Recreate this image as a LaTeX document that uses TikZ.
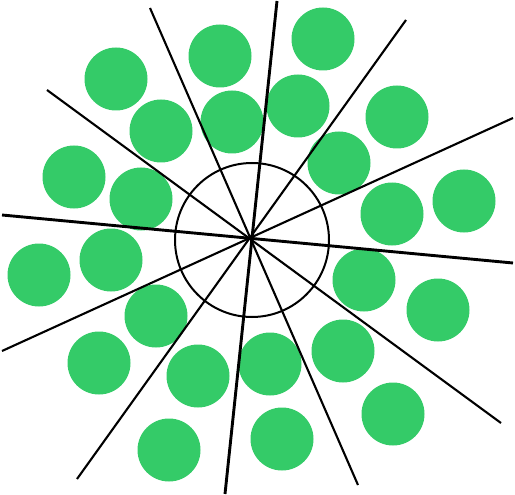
\documentclass[tikz,border=0pt]{standalone}
\definecolor{dotgreen}{RGB}{52,203,104}
\begin{document}
\begin{tikzpicture}[x=1pt,y=-1pt,
  dot/.style={fill=dotgreen,draw=none},
  ray/.style={draw=black,line width=2.1pt},
  thickray/.style={draw=black,line width=2.9pt},
  ring/.style={draw=black,line width=2pt}]
\useasboundingbox (0,0) rectangle (515,495);
% green discs
\foreach \x/\y in {220/56,323/39,116/79,161/131,232/122,298/106,397/117,339/163,
  74/177,141/199,392/214,464/201,39/275,111/260,364/280,438/310,156/316,99/363,
  198/376,270/364,343/351,393/414,169/450,282/439}
  \fill[dot] (\x,\y) circle (31.5);
% centre and ray ends
\coordinate (c) at (251,238);
\coordinate (a1) at (150,8);   \coordinate (b1) at (358,485);
\coordinate (a2) at (47,90);   \coordinate (b2) at (501,423);
\coordinate (a3) at (2,215);   \coordinate (b3) at (513,263);
\coordinate (a4) at (277,1);   \coordinate (b4) at (225,494);
\coordinate (a5) at (406,20);  \coordinate (b5) at (77,479);
\coordinate (a6) at (513,118); \coordinate (b6) at (2,351);
\draw[ray] (a1) -- (b1);
\draw[ray] (a2) -- (b2);
\draw[thickray] (a3) -- (b3);
\draw[thickray] (a4) -- (b4);
\draw[ray] (a5) -- (b5);
\draw[ray] (a6) -- (b6);
\draw[ring] (252,240) circle (77);
\end{tikzpicture}
\end{document}
